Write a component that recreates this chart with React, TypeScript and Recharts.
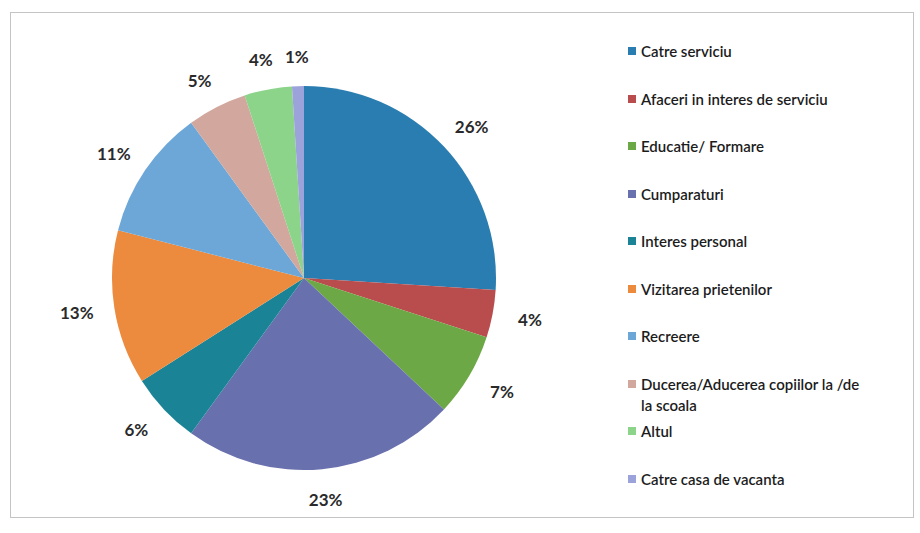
import React from 'react';
import { PieChart, Pie, Cell, Legend } from 'recharts';

const categories = [
  'Catre serviciu',
  'Afaceri in  interes de serviciu',
  'Educatie/ Formare',
  'Cumparaturi',
  'Interes personal',
  'Vizitarea prietenilor',
  'Recreere',
  'Ducerea/Aducerea copiilor la /de la scoala',
  'Altul',
  'Catre casa de vacanta',
];
const shares = [26, 4, 7, 23, 6, 13, 11, 5, 4, 1];
const colors = [
  '#2A7DB0', '#B94C4C', '#6CA845', '#6970AE', '#1A8496',
  '#EC8A3E', '#6CA7D8', '#D2A79E', '#8CD48A', '#9CA2DA',
];

const data = categories.map((name, i) => ({ name, value: shares[i] }));

const FONT = 'Lato, "Open Sans", sans-serif';
const RAD = Math.PI / 180;

const renderLabel = (props: any) => {
  const { cx, cy, midAngle, outerRadius, value } = props;
  const r = outerRadius + 22;
  const c = Math.cos(-midAngle * RAD);
  const s = Math.sin(-midAngle * RAD);
  const x = cx + r * c + 16 * c;
  const y = cy + r * s + 8 * s;
  return (
    <text x={x} y={y} textAnchor="middle" dominantBaseline="central"
      fill="#2a2a2a" fontSize={17} fontWeight={700} fontFamily={FONT}>
      {`${value}%`}
    </text>
  );
};

const renderLegend = () => (
  <div style={{ fontFamily: FONT, fontSize: 15, fontWeight: 600, color: '#1c1c1c', width: 250 }}>
    {data.map((d, i) => (
      <div key={d.name} style={{ display: 'flex', alignItems: 'flex-start', height: 47.5 }}>
        <span style={{ display: 'inline-block', width: 8, height: 8, background: colors[i], marginTop: 6, marginRight: 5, flexShrink: 0 }} />
        <span style={{ lineHeight: '21px', width: 230 }}>{d.name}</span>
      </div>
    ))}
  </div>
);

export default function App() {
  return (
    <div style={{ position: 'relative', width: 920, height: 533, background: '#fff' }}>
      <style>{'body{margin:0}'}</style>
      <div style={{ position: 'absolute', left: 10, top: 12, width: 904, height: 506, border: '1px solid #c4c4c4', boxSizing: 'border-box' }} />
      <div style={{ position: 'absolute', left: 0, top: 0 }}>
        <PieChart width={920} height={533}>
          <Pie
            data={data}
            dataKey="value"
            nameKey="name"
            cx={299}
            cy={273}
            outerRadius={192}
            startAngle={90}
            endAngle={-270}
            stroke="none"
            label={renderLabel}
            labelLine={false}
            isAnimationActive={false}
          >
            {data.map((d, i) => (
              <Cell key={d.name} fill={colors[i]} />
            ))}
          </Pie>
          <Legend
            layout="vertical"
            content={renderLegend}
            wrapperStyle={{ position: 'absolute', left: 628, top: 41, width: 260 }}
          />
        </PieChart>
      </div>
    </div>
  );
}
